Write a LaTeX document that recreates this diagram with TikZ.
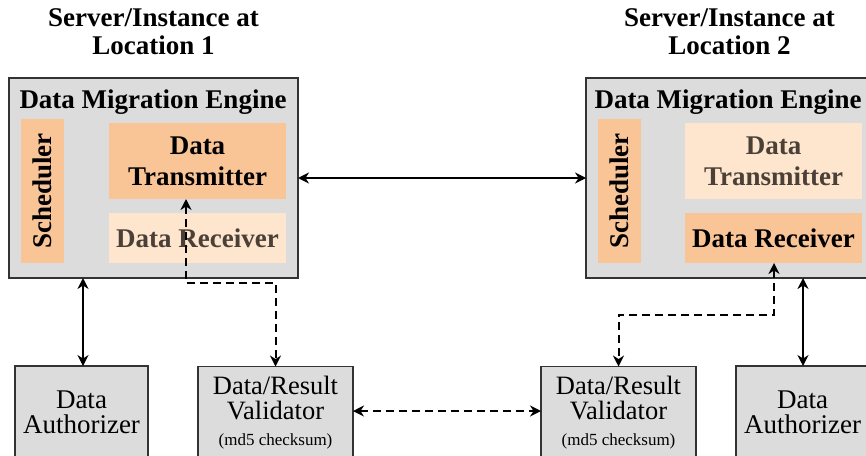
\documentclass[tikz,border=0pt]{standalone}
\usepackage{fontspec}
\setmainfont{Liberation Serif}
\usetikzlibrary{arrows.meta}
\definecolor{boxgray}{HTML}{DCDCDC}
\definecolor{strongor}{HTML}{F9C496}
\definecolor{lightor}{HTML}{FDE5CE}
\definecolor{fadetxt}{HTML}{4B4038}
\definecolor{edgec}{HTML}{333333}
\tikzset{
  bigfont/.style={font=\fontsize{27}{28}\selectfont\bfseries},
  normfont/.style={font=\fontsize{27}{25}\selectfont},
  engine/.style={draw=edgec, line width=1.3pt, fill=boxgray, minimum width=289pt, minimum height=200pt, inner sep=0pt, outer sep=0pt},
  sched/.style={fill=strongor, minimum width=43pt, minimum height=144pt, inner sep=0pt, outer sep=0pt, bigfont},
  partA/.style={minimum width=177pt, inner sep=0pt, outer sep=0pt, bigfont, align=center},
  lower/.style={draw=edgec, line width=1.3pt, fill=boxgray, minimum height=92pt, inner sep=0pt, outer sep=0pt, align=center},
  solidarrow/.style={line width=2pt, {Stealth[length=11pt,width=11pt]}-{Stealth[length=11pt,width=11pt]}},
  dasharrow/.style={line width=2pt, dash pattern=on 8pt off 5pt, {Stealth[length=11pt,width=11pt]}-{Stealth[length=11pt,width=11pt]}}
}
\begin{document}
\begin{tikzpicture}[x=1pt,y=-1pt]
\useasboundingbox (0,0) rectangle (866,455);
\clip (0,0) rectangle (866,455);
\fill[white] (0,0) rectangle (866,455);
% titles
\node[bigfont, align=center] (t1) at (153.5,32) {Server/Instance at\\Location 1};
\node[bigfont, align=center] (t2) at (729.5,32) {Server/Instance at\\Location 2};
% engines
\node[engine] (lbox) at (153.5,178) {};
\node[engine] (rbox) at (730.5,178) {};
\node[bigfont] (le) at (153,102) {Data Migration Engine};
\node[bigfont] (re) at (728,102) {Data Migration Engine};
\node[sched] (lsch) at (42.5,191) {\rotatebox{90}{Scheduler}};
\node[sched] (rsch) at (619,191) {\rotatebox{90}{Scheduler}};
\node[partA, fill=strongor, minimum height=76pt] (ltx) at (197.5,161) {Data\\[3pt]Transmitter};
\node[partA, fill=lightor, minimum height=50pt, text=fadetxt] (lrx) at (197.5,238) {Data Receiver};
\node[partA, fill=lightor, minimum height=76pt, text=fadetxt] (rtx) at (773.5,161) {Data\\[3pt]Transmitter};
\node[partA, fill=strongor, minimum height=50pt] (rrx) at (773.5,238) {Data Receiver};
% lower boxes
\node[lower, minimum width=133pt, normfont] (lauth) at (81.5,412) {Data\\Authorizer};
\node[lower, minimum width=155pt, font=\fontsize{26.5}{25}\selectfont] (lval) at (275.5,412.5) {Data/Result\\Validator\\[1pt]{\fontsize{17}{20}\selectfont (md5 checksum)}};
\node[lower, minimum width=155pt, font=\fontsize{26.5}{25}\selectfont] (rval) at (618.5,412.5) {Data/Result\\Validator\\[1pt]{\fontsize{17}{20}\selectfont (md5 checksum)}};
\node[lower, minimum width=133pt, normfont] (rauth) at (802.5,412) {Data\\Authorizer};
% connectors
\coordinate (lbend) at (186,283);
\coordinate (rbend) at (774,315);
\draw[solidarrow] (lbox.east) -- (rbox.west);
\draw[solidarrow] (lauth.north -| 83,0) -- (lbox.south -| 83,0);
\draw[solidarrow] (rauth.north -| 803,0) -- (rbox.south -| 803,0);
\draw[dasharrow] (ltx.south -| lbend) -- (lbend) -| (lval.north);
\draw[dasharrow] (rrx.south -| rbend) -- (rbend) -| (rval.north);
\draw[dasharrow] ([yshift=1.5pt]lval.east) -- ([yshift=1.5pt]rval.west);
\end{tikzpicture}
\end{document}
